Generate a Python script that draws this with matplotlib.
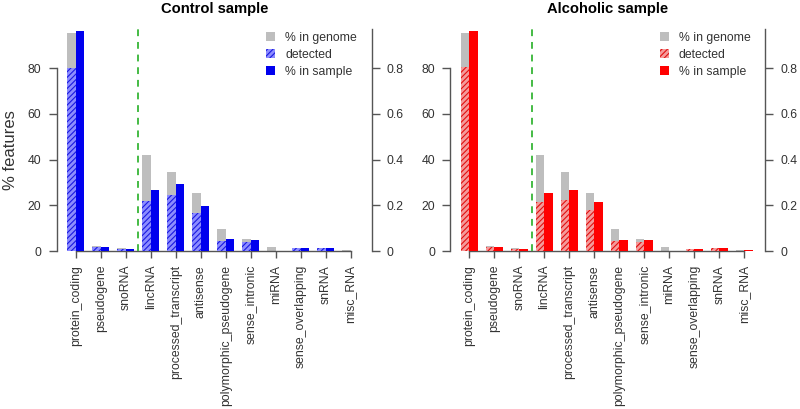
import matplotlib
matplotlib.use("Agg")
import matplotlib.pyplot as plt
from matplotlib.patches import Patch

plt.rcParams['font.family'] = ['Liberation Sans', 'DejaVu Sans']
plt.rcParams['hatch.linewidth'] = 0.8

categories = ['protein_coding', 'pseudogene', 'snoRNA', 'lincRNA', 'processed_transcript',
              'antisense', 'polymorphic_pseudogene', 'sense_intronic', 'miRNA',
              'sense_overlapping', 'snRNA', 'misc_RNA']

genome_pct = [95.4, 2.0, 1.2, 41.9, 34.7, 25.3, 9.7, 5.3, 1.7, 1.0, 1.3, 0.5]

control_detected = [80.1, 1.8, 1.0, 22.0, 24.5, 16.5, 4.3, 3.9, 0.0, 1.1, 1.2, 0.1]
control_sample = [0.964, 0.017, 0.010, 0.267, 0.293, 0.199, 0.052, 0.046, 0.0, 0.013, 0.015, 0.002]

alcoholic_detected = [80.4, 1.6, 1.0, 21.3, 22.3, 18.0, 4.2, 4.1, 0.0, 0.7, 1.2, 0.1]
alcoholic_sample = [0.964, 0.016, 0.010, 0.255, 0.268, 0.216, 0.049, 0.049, 0.0, 0.008, 0.014, 0.003]

left_ticks = [0, 20, 40, 60, 80]
right_ticks = [0, 0.2, 0.4, 0.6, 0.8]
right_ticklabels = ['0', '0.2', '0.4', '0.6', '0.8']

W, H = 800, 409
fig = plt.figure(figsize=(W / 100, H / 100), dpi=100)

AX_COL = '#555555'
TXT_COL = '#333333'
FS = 8.8
YTOP = 97.0
XLIM = (-0.76, 11.84)
BW = 0.35


def px_axes(x0, x1, ytop, ybot):
    return [x0 / W, (H - ybot) / H, (x1 - x0) / W, (ybot - ytop) / H]


def panel(rect, title, detected, sample, solid, hatch_face, hatch_col):
    ax = fig.add_axes(rect)
    ax2 = ax.twinx()
    x = list(range(len(categories)))
    ax.bar(x, genome_pct, width=-BW, align='edge', color='#bebebe', linewidth=0, zorder=2)
    ax.bar(x, detected, width=-BW, align='edge', facecolor=hatch_face, edgecolor=hatch_col,
           hatch='//////', linewidth=0, zorder=3)
    ax2.bar(x, sample, width=BW, align='edge', color=solid, linewidth=0, zorder=3)
    ax.axvline(2.5, color='#44bb44', linestyle=(0, (3.5, 3)), linewidth=1.4, zorder=4)

    ax.set_xlim(*XLIM)
    ax.set_ylim(0, YTOP)
    ax2.set_ylim(0, YTOP / 100)

    for a in (ax, ax2):
        a.spines['top'].set_visible(False)
        for s in a.spines.values():
            s.set_color(AX_COL)
            s.set_linewidth(1.0)
    ax.spines['right'].set_visible(False)
    ax2.spines['left'].set_visible(False)
    ax2.spines['bottom'].set_visible(False)
    ax.spines['left'].set_bounds(0, 80)
    ax.spines['bottom'].set_bounds(0, len(categories) - 1)
    ax2.spines['right'].set_bounds(0, YTOP / 100)

    ax.set_yticks(left_ticks)
    ax.set_yticklabels([str(t) for t in left_ticks])
    ax2.set_yticks(right_ticks)
    ax2.set_yticklabels(right_ticklabels)
    ax.set_xticks(x)
    ax.set_xticklabels(categories, rotation=90)
    ax.tick_params(axis='x', length=5, width=1.0, color=AX_COL, labelcolor=TXT_COL,
                   labelsize=FS, pad=5)
    ax.tick_params(axis='y', length=6, width=1.0, color=AX_COL, labelcolor=TXT_COL,
                   labelsize=FS, pad=5)
    ax2.tick_params(axis='y', length=6, width=1.0, color=AX_COL, labelcolor=TXT_COL,
                    labelsize=FS, pad=5)

    ax.set_title(title, fontsize=10.6, fontweight='bold', pad=12)

    handles = [Patch(facecolor='#bebebe', linewidth=0),
               Patch(facecolor=hatch_face, edgecolor=hatch_col, hatch='//////', linewidth=0),
               Patch(facecolor=solid, linewidth=0)]
    leg = ax2.legend(handles, ['% in genome', 'detected', '% in sample'], loc='upper left',
                     bbox_to_anchor=(0.665, 0.99), frameon=False, fontsize=FS,
                     handlelength=0.75, handleheight=0.75, handletextpad=0.8,
                     labelspacing=0.42, borderpad=0, borderaxespad=0)
    for t in leg.get_texts():
        t.set_color(TXT_COL)
    return ax, ax2


panel(px_axes(56.7, 371.7, 29.4, 251), 'Control sample', control_detected, control_sample,
      '#0000ee', '#8c8cff', '#1a1ae0')
panel(px_axes(450.3, 765.3, 29.4, 251), 'Alcoholic sample', alcoholic_detected, alcoholic_sample,
      '#ff0000', '#f59a9a', '#e01010')

fig.text(11 / W, 1 - 150 / H, '% features', rotation=90, ha='center', va='center',
         fontsize=12, color=TXT_COL)

fig.savefig('out.png', dpi=100)
